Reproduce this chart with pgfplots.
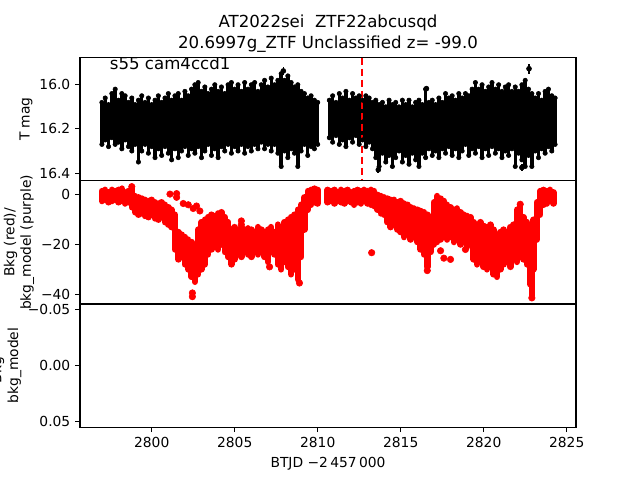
\documentclass[border=0pt]{standalone}
\usepackage{pgfplots}
\pgfplotsset{compat=1.18}
\usepackage{pgfplotstable}
\usepackage{fontspec}
\setmainfont{DejaVu Sans}

\pgfplotstableread{
x t b
2797.0 16.08 16.27
2797.2 16.06 16.25
2797.4 16.09 16.28
2797.6 16.04 16.24
2797.8 16.02 16.27
2798.0 16.07 16.26
2798.2 16.04 16.29
2798.4 16.05 16.25
2798.6 16.08 16.28
2798.8 16.06 16.30
2799.0 16.09 16.27
2799.2 16.07 16.35
2799.4 16.05 16.30
2799.6 16.08 16.27
2799.8 16.06 16.31
2800.0 16.09 16.28
2800.2 16.07 16.33
2800.4 16.05 16.29
2800.6 16.08 16.32
2800.8 16.06 16.28
2801.0 16.04 16.31
2801.2 16.07 16.34
2801.4 16.05 16.29
2801.6 16.04 16.33
2801.8 16.07 16.30
2802.0 16.03 16.28
2802.2 16.05 16.32
2802.4 16.02 16.29
2802.6 16.00 16.31
2802.8 15.99 16.28
2803.0 16.03 16.33
2803.2 16.01 16.30
2803.4 16.04 16.27
2803.6 16.02 16.32
2803.8 16.00 16.29
2804.0 16.03 16.33
2804.2 16.01 16.28
2804.4 16.04 16.30
2804.6 16.00 16.27
2804.8 15.99 16.31
2805.0 16.02 16.28
2805.2 16.00 16.30
2805.4 16.03 16.27
2805.6 15.99 16.31
2805.8 16.02 16.28
2806.0 16.00 16.30
2806.2 15.99 16.27
2806.4 16.03 16.29
2806.6 16.00 16.26
2806.8 15.98 16.29
2807.0 16.01 16.27
2807.2 15.97 16.30
2807.4 16.00 16.27
2807.6 15.98 16.31
2807.8 15.95 16.37
2808.0 15.98 16.30
2808.2 15.96 16.33
2808.4 15.99 16.29
2808.6 16.01 16.31
2808.8 16.00 16.37
2809.0 16.03 16.30
2809.2 16.04 16.27
2809.4 16.06 16.32
2809.6 16.05 16.28
2809.8 16.07 16.29
2810.0 16.08 16.27
2810.7 16.07 16.24
2810.9 16.05 16.26
2811.1 16.08 16.23
2811.3 16.04 16.27
2811.5 16.06 16.25
2811.7 16.03 16.28
2811.9 16.07 16.24
2812.1 16.04 16.26
2812.3 16.06 16.23
2812.5 16.05 16.27
2812.7 16.07 16.25
2812.9 16.05 16.28
2813.1 16.06 16.26
2813.3 16.08 16.29
2813.5 16.07 16.33
2813.7 16.09 16.37
2813.9 16.08 16.31
2814.1 16.10 16.35
2814.3 16.07 16.32
2814.5 16.09 16.37
2814.7 16.08 16.33
2814.9 16.10 16.30
2815.1 16.07 16.35
2815.3 16.09 16.32
2815.5 16.07 16.36
2815.7 16.10 16.31
2815.9 16.08 16.34
2816.1 16.07 16.37
2816.3 16.09 16.31
2816.5 16.02 16.33
2816.7 16.08 16.29
2816.9 16.07 16.32
2817.1 16.09 16.30
2817.3 16.06 16.33
2817.5 16.08 16.29
2817.7 16.04 16.31
2817.9 16.06 16.28
2818.1 16.05 16.32
2818.3 16.07 16.29
2818.5 16.04 16.33
2818.7 16.06 16.30
2818.9 16.04 16.27
2819.1 16.05 16.32
2819.3 16.02 16.29
2819.5 15.99 16.31
2819.7 16.02 16.28
2819.9 16.00 16.33
2820.1 16.03 16.29
2820.3 16.01 16.32
2820.5 15.99 16.28
2820.7 16.02 16.31
2820.9 16.00 16.29
2821.1 16.03 16.33
2821.3 16.01 16.30
2821.5 16.00 16.32
2821.7 16.03 16.29
2821.9 16.01 16.37
2822.1 16.03 16.31
2822.3 16.00 16.34
2822.5 15.98 16.37
2822.7 16.02 16.32
2822.9 16.04 16.37
2823.1 16.06 16.30
2823.3 16.04 16.33
2823.5 16.07 16.29
2823.7 16.03 16.31
2823.9 16.02 16.28
2824.1 16.05 16.30
2824.3 16.06 16.27
}\blackdata

\pgfplotstableread{
x t b
2807.93 15.92 15.955
2822.73 15.905 15.95
2816.55 16.005 16.03
2813.65 16.37 16.40
2822.30 16.36 16.39
}\blackout

\pgfplotstableread{
x lo hi
2797.0 -2.5 1.5
2797.2 -2.0 2.0
2797.4 -3.0 1.0
2797.6 -2.5 2.0
2797.8 -2.0 1.5
2798.0 -3.0 2.0
2798.2 -2.5 2.5
2798.4 -3.5 1.0
2798.6 -3.0 1.5
2798.8 -5.0 2.5
2799.0 -7.0 -0.5
2799.2 -8.0 -1.0
2799.4 -7.5 -1.5
2799.6 -8.5 -2.0
2799.8 -9.0 -2.5
2800.0 -8.0 -2.0
2800.2 -9.5 -3.0
2800.4 -10.0 -3.5
2800.6 -9.0 -3.0
2800.8 -11.0 -4.0
2801.0 -12.0 -5.0
2801.2 -13.0 -6.0
2801.4 -22.0 -8.0
2801.6 -26.0 -15.0
2801.8 -25.0 -16.0
2802.0 -28.0 -17.0
2802.2 -30.0 -18.0
2802.4 -33.0 -19.0
2802.6 -35.0 -20.0
2802.8 -32.0 -14.0
2803.0 -30.0 -11.0
2803.2 -28.0 -10.0
2803.4 -24.0 -9.0
2803.6 -22.0 -8.0
2803.8 -21.0 -8.5
2804.0 -22.0 -7.5
2804.2 -20.0 -7.0
2804.4 -23.0 -9.0
2804.6 -25.0 -11.0
2804.8 -28.0 -14.0
2805.0 -26.0 -13.0
2805.2 -24.0 -15.0
2805.4 -25.0 -13.0
2805.6 -23.0 -14.0
2805.8 -24.0 -13.5
2806.0 -25.0 -14.0
2806.2 -23.0 -15.0
2806.4 -24.0 -13.0
2806.6 -22.0 -14.0
2806.8 -25.0 -15.0
2807.0 -27.0 -14.0
2807.2 -23.0 -13.0
2807.4 -24.0 -15.0
2807.6 -28.0 -12.0
2807.8 -30.0 -13.0
2808.0 -27.0 -11.0
2808.2 -29.0 -10.0
2808.4 -32.0 -9.0
2808.6 -30.0 -8.0
2808.8 -34.0 -6.0
2809.0 -25.0 -4.0
2809.2 -14.0 -1.0
2809.4 -6.0 1.5
2809.6 -4.0 2.0
2809.8 -3.0 2.5
2810.0 -3.5 2.0
2810.6 -3.0 2.0
2810.8 -2.5 1.5
2811.0 -3.5 2.0
2811.2 -2.5 1.0
2811.4 -3.0 2.0
2811.6 -3.5 1.5
2811.8 -2.5 2.0
2812.0 -3.0 1.0
2812.2 -4.0 1.5
2812.4 -3.0 2.0
2812.6 -3.5 1.5
2812.8 -2.5 2.0
2813.0 -3.5 1.5
2813.2 -4.0 2.0
2813.4 -4.5 1.5
2813.6 -6.0 0.0
2813.8 -7.5 -0.5
2814.0 -8.0 -1.0
2814.2 -11.0 -1.5
2814.4 -13.0 -2.0
2814.6 -12.0 -2.0
2814.8 -14.0 -3.0
2815.0 -15.0 -2.5
2815.2 -17.0 -3.5
2815.4 -16.0 -4.0
2815.6 -18.0 -5.0
2815.8 -17.0 -5.5
2816.0 -19.0 -6.0
2816.2 -22.0 -6.5
2816.4 -24.0 -7.0
2816.6 -29.0 -8.0
2816.8 -23.0 -9.0
2817.0 -20.0 -3.0
2817.2 -19.0 -0.5
2817.4 -18.0 -1.5
2817.6 -17.0 -2.5
2817.8 -18.0 -4.0
2818.0 -17.0 -5.0
2818.2 -19.0 -6.0
2818.4 -18.0 -5.5
2818.6 -20.0 -7.0
2818.8 -19.0 -8.0
2819.0 -21.0 -8.5
2819.2 -20.0 -9.0
2819.4 -26.0 -11.0
2819.6 -28.0 -12.0
2819.8 -27.0 -11.0
2820.0 -29.0 -12.5
2820.2 -30.0 -13.0
2820.4 -27.0 -12.0
2820.6 -32.0 -14.0
2820.8 -33.0 -16.0
2821.0 -30.0 -15.0
2821.2 -28.0 -14.0
2821.4 -27.0 -15.5
2821.6 -29.0 -13.0
2821.8 -26.0 -12.0
2822.0 -27.0 -6.0
2822.2 -25.0 -4.0
2822.4 -26.0 -9.0
2822.6 -28.0 -11.0
2822.8 -36.0 -14.0
2822.9 -40.5 -18.0
2823.0 -30.0 -10.0
2823.2 -18.0 -3.0
2823.4 -8.0 1.5
2823.6 -4.0 2.0
2823.8 -3.5 1.5
2824.0 -2.5 2.0
2824.2 -3.5 1.0
}\reddata

\pgfplotsset{
  panel/.style={
    scale only axis, width=4.96in, height=1.232in,
    xmin=2795.68, xmax=2825.56,
    anchor=south west,
    tick align=outside, tick pos=left,
    major tick length=3.5pt,
    scaled y ticks=false, scaled x ticks=false,
    every tick/.style={black, line width=0.8pt},
    axis line style={line width=0.8pt},
    tick label style={font=\fontsize{10}{12}\selectfont},
    /pgf/number format/assume math mode=true,
    every axis y label/.style={rotate=90, anchor=center, align=center, font=\fontsize{10}{12}\selectfont},
    every axis x label/.style={at={(axis description cs:0.5,-0.329)}, anchor=base, font=\fontsize{10}{12}\selectfont},
  },
}

\begin{document}
\begin{tikzpicture}
\useasboundingbox (0,0) rectangle (6.4in,4.8in);

% top panel
\begin{axis}[panel, at={(0.8in,2.992in)},
  y dir=reverse, ymin=15.877, ymax=16.435,
  ytick={16.0,16.2,16.4}, yticklabels={16.0,16.2,16.4},
  xtick=\empty,
  ylabel={T mag},
  every axis y label/.append style={at={(axis description cs:-0.109,0.5)}}]
\addplot[only marks, mark=*, mark size=0.3pt, black,
  error bars/.cd, y dir=both, y explicit, error mark=none,
  error bar style={line width=2.5pt, black}]
  table[x=x, y expr={(\thisrow{t}+\thisrow{b})/2}, y error expr={(\thisrow{b}-\thisrow{t})/2}] {\blackdata};
\addplot[only marks, mark=*, mark size=1.6pt, black] table[x=x, y=t] {\blackdata};
\addplot[only marks, mark=*, mark size=1.6pt, black] table[x=x, y=b] {\blackdata};
\addplot[only marks, mark=*, mark size=1.8pt, black,
  error bars/.cd, y dir=both, y explicit, error mark=none,
  error bar style={line width=1.2pt, black}]
  table[x=x, y expr={(\thisrow{t}+\thisrow{b})/2}, y error expr={(\thisrow{b}-\thisrow{t})/2}] {\blackout};
\addplot[red, line width=1.5pt, dash pattern=on 5.55pt off 2.4pt] coordinates {(2812.67,15.877) (2812.67,16.435)};
\node[anchor=base west, font=\fontsize{12}{14}\selectfont] at (axis cs:2797.19,15.930) {s55 cam4ccd1};
\end{axis}

% middle panel
\begin{axis}[panel, at={(0.8in,1.76in)},
  ymin=-43.95, ymax=5.65,
  ytick={-40,-20,0}, yticklabels={−40,−20,0},
  xtick=\empty,
  ylabel={Bkg (red)/\\bkg\_model (purple)},
  every axis y label/.append style={at={(axis description cs:-0.123,0.5)}}]
\addplot[only marks, mark=*, mark size=0.3pt, red,
  error bars/.cd, y dir=both, y explicit, error mark=none,
  error bar style={line width=4.7pt, red, line cap=round}]
  table[x=x, y expr={(\thisrow{lo}+\thisrow{hi})/2}, y error expr={(\thisrow{hi}-\thisrow{lo})/2}] {\reddata};
\addplot[only marks, mark=*, mark size=2.35pt, red, mark options={draw=red, fill=red}] coordinates {
(2798.8,3.3) (2801.1,0.3) (2801.5,0.5) (2801.5,-1.0) (2801.9,-3.5) (2802.2,-4.0)
(2802.5,-5.5) (2802.7,-4.5) (2802.9,-6.5) (2802.45,-39.5) (2802.45,-41.0)
(2805.4,-10.5) (2805.4,-12.0) (2807.1,-29.0) (2808.9,-35.5)
(2813.25,-23.3) (2817.4,-22.5) (2817.6,-25.5) (2818.0,-26.0) (2818.9,-22.0)
(2822.9,-41.5) (2822.2,-3.8) (2816.6,-30.5)
};
\end{axis}

% bottom panel
\begin{axis}[panel, at={(0.8in,0.528in)},
  y dir=reverse, ymin=-0.055, ymax=0.055,
  ytick={-0.05,0,0.05}, yticklabels={−0.05,0.00,0.05},
  xtick={2800,2805,2810,2815,2820,2825},
  xticklabels={2800,2805,2810,2815,2820,2825},
  xlabel={BTJD −2\,457\,000},
  ylabel={Bkg -\\bkg\_model},
  every axis y label/.append style={at={(axis description cs:-0.149,0.5)}}]
\end{axis}

\node[anchor=base, font=\fontsize{12}{14}\selectfont] at (3.28in,4.527in) {AT2022sei\ \ ZTF22abcusqd};
\node[anchor=base, font=\fontsize{12}{14}\selectfont] at (3.28in,4.31in) {20.6997g\_ZTF Unclassified z= -99.0};
\end{tikzpicture}
\end{document}
